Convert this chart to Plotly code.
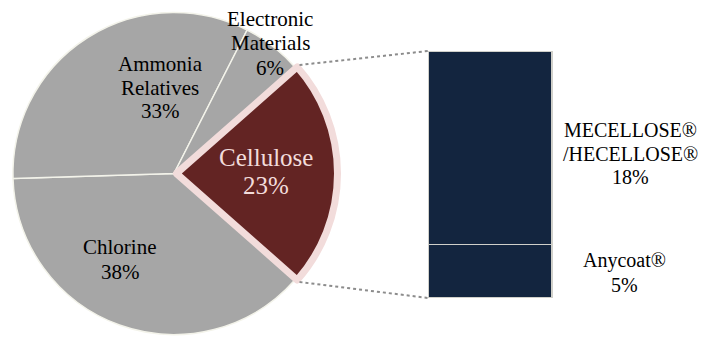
import math
import plotly.graph_objects as go

W, H = 701, 337

# ---- data ----
pie_labels = ["Chlorine", "Ammonia\nRelatives", "Electronic\nMaterials", "Cellulose"]
pie_values = [38, 33, 6, 23]
bar_labels = ["Anycoat®", "MECELLOSE®\n/HECELLOSE®"]
bar_values = [5, 18]

# ---- styles ----
GRAY = "#A6A6A6"
MAROON = "#632423"
PINK = "#F2DCDB"
NAVY = "#13253F"
FONT = "Liberation Serif"
pull = 0.015

pie_colors = [GRAY, GRAY, GRAY, MAROON]
pie_line_colors = ["#F3F3EA", "#F3F3EA", "#F3F3EA", PINK]
pie_line_widths = [1.5, 1.5, 1.5, 7]
pie_pull = [0, 0, 0, pull]

# pie domain (paper)
pdx = [10.5 / W, 337.5 / W]
pdy = [0.0, 327 / H]

# rotation: exploded slice (last) centred on 3 o'clock
cell_share = pie_values[-1] / sum(pie_values)
rotation = 90 + cell_share * 360 / 2

fig = go.Figure()
fig.add_trace(go.Pie(
    labels=[l.replace("\n", " ") for l in pie_labels], values=pie_values,
    sort=False, direction="clockwise", rotation=rotation,
    marker=dict(colors=pie_colors, line=dict(color=pie_line_colors, width=pie_line_widths)),
    pull=pie_pull, textinfo="none", hoverinfo="label+percent",
    domain=dict(x=pdx, y=pdy), showlegend=False,
))

# bar axes
bx0, bx1 = 428 / W, 1.0
by0, by1 = 1 - 298 / H, 1 - 51 / H
xr = (W - 428) / 124.0
for name, v in zip(bar_labels, bar_values):
    fig.add_trace(go.Bar(
        x=[0.5], y=[v], width=[1], name=name.replace("\n", " "),
        marker=dict(color=NAVY, line=dict(color="#D0D0CA", width=1.2)),
        showlegend=False, hoverinfo="name+y",
    ))

fig.update_layout(
    width=W, height=H, margin=dict(l=0, r=0, t=0, b=0),
    paper_bgcolor="white", plot_bgcolor="rgba(0,0,0,0)",
    barmode="stack",
    xaxis=dict(domain=[bx0, bx1], range=[0, xr], visible=False, fixedrange=True),
    yaxis=dict(domain=[by0, by1], range=[0, sum(bar_values)], visible=False, fixedrange=True),
)

# ---- connector dotted lines (computed from pie geometry and bar axes) ----
boxw = (pdx[1] - pdx[0]) * W
boxh = (pdy[1] - pdy[0]) * H
r = min(boxw, boxh) / (2 + 2 * pull)
cx = (pdx[0] + pdx[1]) / 2 * W
cy = H - (pdy[0] + pdy[1]) / 2 * H
half = math.radians(cell_share * 360 / 2)
rr = r + 3
px = cx + pull * r + rr * math.cos(half)
for sgn, by in [(-1, by1), (1, by0)]:
    py = cy + sgn * rr * math.sin(half)
    fig.add_shape(type="line", xref="paper", yref="paper",
                  x0=px / W, y0=1 - py / H, x1=bx0, y1=by,
                  line=dict(color="#8C8C8C", width=2, dash="dot"))

# ---- labels (per-line annotations) ----
pie_label_pos = [(120, 247, 25), (160, 64, 23.5), (270, 19, 24.5), (266, 157, 28)]
pie_label_font = [21, 21, 21, 25]
pie_label_color = ["#000000", "#000000", "#000000", PINK]
for lab, v, (x, y, dy), fs, col in zip(pie_labels, pie_values, pie_label_pos, pie_label_font, pie_label_color):
    lines = lab.split("\n") + [f"{v}%"]
    for i, t in enumerate(lines):
        fig.add_annotation(text=t, xref="paper", yref="paper", x=x / W, y=1 - (y + i * dy) / H,
                           xanchor="center", yanchor="middle", showarrow=False,
                           font=dict(family=FONT, size=fs, color=col))

bar_label_pos = [(624, 260, 25), (630, 130, 23.5)]
for lab, v, (x, y, dy) in zip(bar_labels, bar_values, bar_label_pos):
    lines = lab.split("\n") + [f"{v}%"]
    for i, t in enumerate(lines):
        fig.add_annotation(text=t, xref="paper", yref="paper", x=x / W, y=1 - (y + i * dy) / H,
                           xanchor="center", yanchor="middle", showarrow=False,
                           font=dict(family=FONT, size=20, color="#000000"))

fig.write_html("out.html")
